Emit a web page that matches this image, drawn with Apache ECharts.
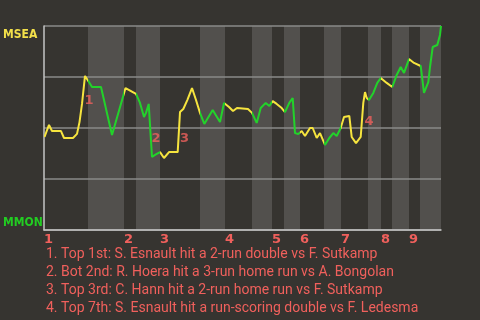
<!DOCTYPE html>
<html><head><meta charset="utf-8">
<script src="https://cdn.jsdelivr.net/npm/echarts@6/dist/echarts.min.js"></script>
<style>html,body{margin:0;padding:0;background:#363430;}#c{width:480px;height:320px;}</style>
</head><body><div id="c"></div>
<script>
// game progress (x) vs win expectancy toward MSEA (y, 0 = MMON, 100 = MSEA)
const progress = [0.5,5,8,17,20,29,33,35.5,38,41,44,48,57,68,81.5,92,96,100,102,104.7,108,111,116,120,125,133.7,136,139.3,143.3,148,152,156,160.3,168.7,176,180,185,189,193,204,208,212.7,216.7,221.7,225.3,228.7,232.7,237.7,241,245.3,248.7,251,254.3,257.7,261,266,268.7,272.7,276,281,285.3,289.3,292.7,296.7,300,305.3,307.7,312,316.7,319.3,321,322.7,325,329.3,333.3,336.7,342.7,348.3,352.7,356.7,360,362,365,370,376.7,380,381.5,384.3,386,388.7,393.3,396,397];
const winExp = [45.6,51.5,48.5,48.5,45.1,45.1,47.1,52.9,61.8,75.5,73.3,70.1,70.1,46.6,69.6,66.7,62.3,55.4,57.4,61.8,35.8,36.8,38.2,35.3,38.2,38.2,57.8,59.3,63.7,69.6,63.7,57.4,52.0,58.8,52.9,62.3,60.3,58.3,59.8,59.3,57.4,52.5,59.8,62.3,60.8,63.2,61.8,59.8,57.8,62.3,64.7,47.5,47.1,48.5,46.1,50.0,50.0,45.1,47.5,41.7,45.1,47.5,46.1,50.0,55.4,55.9,45.6,42.6,45.6,62.3,67.6,64.7,63.7,67.2,72.1,74.5,72.1,70.1,76.0,79.9,77.0,77.9,83.8,81.9,80.4,67.2,67.2,72.5,79.9,89.7,90.7,95.6,100];
// half-inning boundaries in game progress units
const halfInningStarts = [0,44,80,92,116,156,181,208,228,240,256,280,297,324,337,348,365,376,397];
const inningLabels = ['1','2','3','4','5','6','7','8','9'];
const teams = {top:'MSEA', bottom:'MMON'};
// key events: [progress, winExp, number]
const eventMarks = [[45,63.2,'1'],[112,44.9,'2'],[140.5,44.9,'3'],[325,52.9,'4']];
const eventTexts = [
 '1. Top 1st: S. Esnault hit a 2-run double vs F. Sutkamp',
 '2. Bot 2nd: R. Hoera hit a 3-run home run vs A. Bongolan',
 '3. Top 3rd: C. Hann hit a 2-run home run vs F. Sutkamp',
 '4. Top 7th: S. Esnault hit a run-scoring double vs F. Ledesma'
];

const YEL='#f6e43e', GRN='#22d22a', RED='#f0605c', BAND='#52504d';
const inningStarts = halfInningStarts.filter((v,i)=>i%2===0 && i<halfInningStarts.length-1);
const pieces=[]; const areas=[];
for(let i=0;i<halfInningStarts.length-1;i++){
  const a=halfInningStarts[i], b=halfInningStarts[i+1];
  pieces.push({gte:a, lt:(i===halfInningStarts.length-2? b+1 : b), color: i%2===0?YEL:GRN});
  if(i%2===1) areas.push([{xAxis:a},{xAxis:b}]);
}
const chart=echarts.init(document.getElementById('c'),null,{renderer:'canvas'});
chart.setOption({
  backgroundColor:'#363430',
  animation:false,
  grid:{left:44,right:39,top:26,bottom:90},
  title:{text:eventTexts.join('\n'),left:46,top:245,padding:0,textStyle:{color:RED,fontSize:14,fontWeight:'normal',lineHeight:18,fontFamily:'Roboto'}},
  xAxis:{type:'value',min:0,max:halfInningStarts[halfInningStarts.length-1],
    axisLine:{show:true,lineStyle:{color:'#c4c4c4',width:1.5}},axisTick:{show:false},splitLine:{show:false},
    axisLabel:{customValues:inningStarts,formatter:v=>inningLabels[inningStarts.indexOf(v)]||'',align:'left',color:RED,fontWeight:'bold',fontSize:13,margin:3,fontFamily:'DejaVu Sans',hideOverlap:false}},
  yAxis:{type:'value',min:0,max:100,interval:25,
    axisLine:{show:true,lineStyle:{color:'#c4c4c4',width:1.5}},axisTick:{show:false},
    splitLine:{show:true,lineStyle:{color:'#8a8a88',width:1.5}},
    axisLabel:{align:'left',margin:41,formatter:v=>v===100?'{a|'+teams.top+'}':(v===0?'{b|'+teams.bottom+'}':''),
      rich:{a:{color:'#f3e04a',fontWeight:'bold',fontSize:12,fontFamily:'DejaVu Sans Condensed',padding:[17,0,0,0]},
            b:{color:'#22cc22',fontWeight:'bold',fontSize:12,fontFamily:'DejaVu Sans Condensed',padding:[0,0,15,0]}}}},
  visualMap:{show:false,type:'piecewise',dimension:0,seriesIndex:1,pieces:pieces},
  series:[
    {type:'line',data:[],z:-1,markArea:{silent:true,z:-1,itemStyle:{color:BAND},data:areas}},
    {type:'line',data:progress.map((x,i)=>[x,winExp[i]]),showSymbol:false,symbol:'none',lineStyle:{width:2},z:3},
    {type:'scatter',data:eventMarks,symbolSize:0,z:4,label:{show:true,position:'inside',formatter:p=>p.data[2],color:RED,fontWeight:'bold',fontSize:13,fontFamily:'DejaVu Sans'}}
  ]
});
</script></body></html>
